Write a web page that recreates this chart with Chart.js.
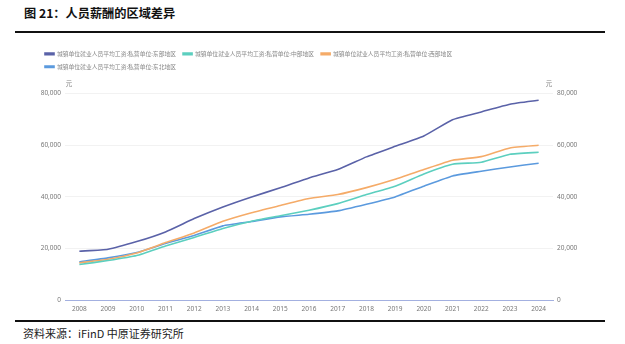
<!DOCTYPE html>
<html>
<head>
<meta charset="utf-8">
<script src="https://cdn.jsdelivr.net/npm/chart.js@4/dist/chart.umd.min.js"></script>
<style>
  html, body { margin: 0; padding: 0; background: #fff; }
  body { width: 625px; height: 344px; position: relative; overflow: hidden;
         font-family: "Noto Sans CJK SC", "Noto Sans", sans-serif; }
  #title { position: absolute; left: 24px; top: 4px; font-size: 12.2px; font-weight: bold; color: #111; }
  .rule { position: absolute; left: 15px; width: 590px; height: 2px; background: #111; }
  #source { position: absolute; left: 23px; top: 325px; font-size: 11px; color: #222; }
  #wrap { position: absolute; left: 15px; top: 40px; width: 590px; height: 279px; }
</style>
</head>
<body>
<div id="title">图 21：人员薪酬的区域差异</div>
<div class="rule" style="top:31px"></div>
<div id="wrap"><canvas id="chart"></canvas></div>
<div class="rule" style="top:320px"></div>
<div id="source">资料来源：iFinD 中原证券研究所</div>

<script>
// 城镇私营单位就业人员平均工资（元），分地区
const years = ['2008', '2009', '2010', '2011', '2012', '2013', '2014', '2015', '2016',
               '2017', '2018', '2019', '2020', '2021', '2022', '2023', '2024'];

const east      = [18970, 19740, 22700, 26450, 31600, 36100, 40000, 43500, 47350,
                   50600, 55500, 59600, 63600, 69900, 72900, 75900, 77400];
const central   = [13800, 15350, 17300, 21000, 24260, 27800, 30600, 32700, 34840,
                   37400, 40900, 44130, 48900, 52650, 53420, 56520, 57290];
const west      = [14450, 15870, 18300, 22300, 26060, 30580, 33900, 36650, 39350,
                   40900, 43600, 46840, 50580, 54200, 55600, 58970, 60000];
const northeast = [14840, 16390, 18450, 21940, 25030, 28770, 30450, 32260, 33290,
                   34580, 37160, 40000, 44130, 48130, 49940, 51610, 53030];

const seriesNames = [
    '城镇单位就业人员平均工资:私营单位:东部地区',
    '城镇单位就业人员平均工资:私营单位:中部地区',
    '城镇单位就业人员平均工资:私营单位:西部地区',
    '城镇单位就业人员平均工资:私营单位:东北地区'
];
const seriesColors = ['#5a62a8', '#5ccfbf', '#f5ab68', '#5b9ade'];

const yTicks = [0, 20000, 40000, 60000, 80000];

const tickFont = { family: '"Noto Sans", "DejaVu Sans", sans-serif', size: 6.5 };

// extra room between legend and plot
const legendGap = {
    id: 'legendGap',
    beforeInit(chart) {
        const fit = chart.legend.fit;
        chart.legend.fit = function () {
            fit.call(this);
            this.height += 14;
        };
    }
};

// "元" unit labels above both value axes
const unitLabels = {
    id: 'unitLabels',
    afterDraw(chart) {
        const ctx = chart.ctx;
        const area = chart.chartArea;
        ctx.save();
        ctx.font = '6.5px "Noto Sans CJK SC", sans-serif';
        ctx.fillStyle = '#888';
        ctx.textBaseline = 'middle';
        ctx.textAlign = 'center';
        ctx.fillText('元', area.left + 4, area.top - 10);
        ctx.fillText('元', area.right - 4, area.top - 10);
        ctx.restore();
    }
};

const datasets = [east, central, west, northeast].map((d, i) => ({
    label: seriesNames[i],
    data: d,
    borderColor: seriesColors[i],
    backgroundColor: seriesColors[i],
    borderWidth: 1.6,
    pointRadius: 0,
    tension: 0.15,
    yAxisID: 'y'
}));

new Chart(document.getElementById('chart'), {
    type: 'line',
    data: { labels: years, datasets: datasets },
    plugins: [legendGap, unitLabels],
    options: {
        responsive: true,
        maintainAspectRatio: false,
        animation: false,
        layout: { padding: { left: 23, right: 20, top: 4, bottom: 1 } },
        plugins: {
            legend: {
                position: 'top',
                align: 'start',
                labels: {
                    color: '#888',
                    font: { family: '"Noto Sans CJK SC", sans-serif', size: 5.8 },
                    boxWidth: 9,
                    boxHeight: 1.5,
                    padding: 7
                }
            },
            tooltip: { enabled: false }
        },
        scales: {
            x: {
                offset: true,
                grid: { display: false, drawTicks: false },
                border: { color: '#a3b0e0', width: 1 },
                ticks: { color: '#777', font: tickFont, padding: 5, maxRotation: 0, autoSkip: false }
            },
            y: {
                position: 'left',
                min: 0,
                max: 80000,
                afterBuildTicks: (s) => { s.ticks = yTicks.map(v => ({ value: v })); },
                afterFit: (s) => { s.width = 27; },
                grid: { color: '#f2f2f2', drawTicks: false },
                border: { display: false },
                ticks: {
                    color: '#777', font: tickFont, padding: 4,
                    callback: (v) => v.toLocaleString('en-US')
                }
            },
            y2: {
                position: 'right',
                min: 0,
                max: 80000,
                afterBuildTicks: (s) => { s.ticks = yTicks.map(v => ({ value: v })); },
                afterFit: (s) => { s.width = 32; },
                grid: { display: false, drawTicks: false },
                border: { display: false },
                ticks: {
                    color: '#777', font: tickFont, padding: 4,
                    callback: (v) => v.toLocaleString('en-US')
                }
            }
        }
    }
});
</script>
</body>
</html>
